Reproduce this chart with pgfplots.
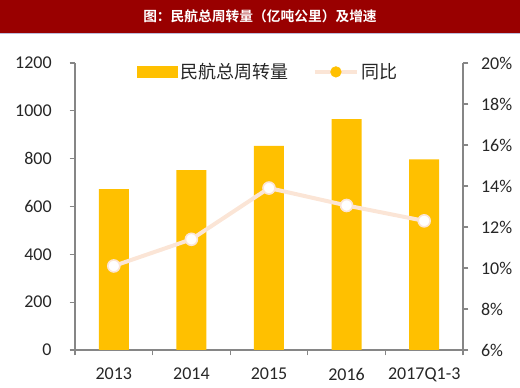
\documentclass[border=0pt]{standalone}
\usepackage{pgfplots}
\pgfplotsset{compat=1.18}
\usepackage{fontspec}
\setmainfont{Carlito}
\newfontfamily\cjk[BoldFont={Noto Sans CJK SC Bold}]{Noto Sans CJK SC}
\usetikzlibrary{calc}
\definecolor{barc}{HTML}{FFC000}
\definecolor{peach}{HTML}{FBE5D6}
\definecolor{titlered}{HTML}{990000}
\definecolor{axgray}{HTML}{868686}
\definecolor{lbl}{HTML}{262626}
\begin{document}
\begin{tikzpicture}
\pgfplotsset{
  common/.style={
    scale only axis, width=291pt, height=215.25pt,
    xmin=-0.5, xmax=4.5,
    tick align=outside,
    axis line style={-, draw=axgray, line width=0.8pt},
    tick style={draw=axgray, line width=0.8pt},
    tick label style={font=\fontsize{13.5}{15}\selectfont, text=lbl},
    /pgf/number format/assume math mode=true,
    /pgf/number format/1000 sep={},
  }
}
\begin{axis}[common, name=ax,
  ymin=0, ymax=1200, ytick={0,200,...,1200},
  axis x line*=bottom, axis y line*=left,
  xtick={0,...,4}, xticklabels={2013,2014,2015,2016,2017Q1-3},
  major x tick style={draw=none},
  minor xtick={-0.5,0.5,...,4.5},
  minor tick length=4pt, major tick length=4pt,
  xticklabel style={yshift=-6pt},
  yticklabel style={xshift=-10pt},
]
\addplot[ybar, bar width=22.5pt, fill=barc, draw=none] coordinates {
  (0,673) (1,752) (2,853) (3,965) (4,797)
};
\end{axis}
\begin{axis}[common,
  ymin=6, ymax=20, ytick={6,8,...,20},
  axis y line*=right, axis x line=none,
  major tick length=4pt,
  yticklabel={\pgfmathprintnumber{\tick}\%},
  yticklabel style={xshift=6pt},
  legend style={at={(0.5,0.969)}, anchor=center, draw=none, fill=none,
    font=\cjk\fontsize{13.5}{15}\selectfont, text=lbl,
    legend columns=2,
    /tikz/every even column/.append style={column sep=16pt}},
  legend cell align=left,
]
\addlegendimage{legend image code/.code={\fill[barc] (0pt,-4pt) rectangle (30pt,4pt);}}
\addlegendentry{民航总周转量}
\addplot[peach, line width=3pt, mark=*, mark size=4.5pt,
  mark options={fill=white, draw=peach, line width=1.2pt}, forget plot]
  coordinates {(0,10.1) (1,11.4) (2,13.9) (3,13.05) (4,12.3)};
\addlegendimage{legend image code/.code={\draw[peach, line width=3pt] (0pt,0pt) -- (32pt,0pt); \fill[barc] (16pt,0pt) circle (4pt);}}
\addlegendentry{同比}
\end{axis}
\fill[titlered] ($(ax.north west)+(-56.25pt,47.25pt)$) rectangle ($(ax.north east)+(42.75pt,22.5pt)$);
\draw[blue!30!gray!40, line width=0.6pt] ($(ax.north west)+(-56.25pt,22.2pt)$) -- ($(ax.north east)+(42.75pt,22.2pt)$);
\node[text=white, font=\cjk\bfseries\fontsize{10.3}{12}\selectfont] at ($(ax.north)+(-6.75pt,34.9pt)$) {图：民航总周转量（亿吨公里）及增速};
\pgfresetboundingbox
\path[use as bounding box] ($(ax.south west)+(-56.25pt,-28.5pt)$) rectangle ($(ax.north east)+(42.75pt,47.25pt)$);
\end{tikzpicture}
\end{document}
